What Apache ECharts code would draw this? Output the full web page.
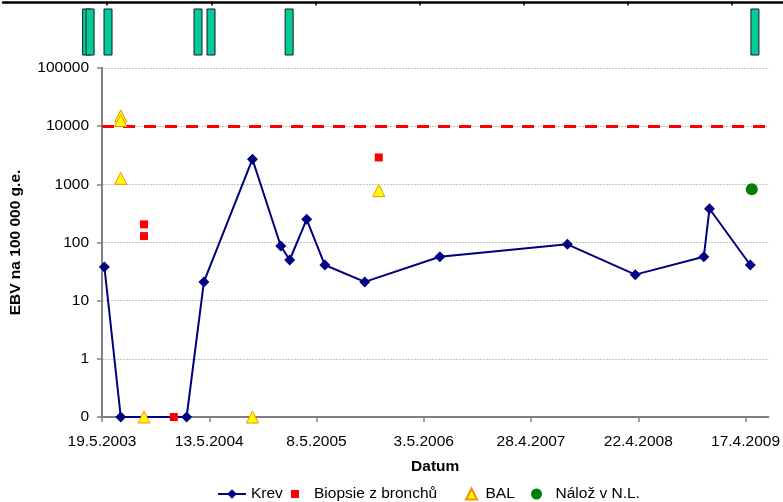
<!DOCTYPE html>
<html><head><meta charset="utf-8">
<script src="https://cdn.jsdelivr.net/npm/echarts@6/dist/echarts.min.js"></script>
<style>html,body{margin:0;padding:0;background:#fff}#c{width:783px;height:502px}</style>
</head><body><div id="c"></div>
<script>
// ---- data ----
const originDate = '19.5.2003';
const xTickIntervalDays = 360;
const xMaxDays = 2237;

const krevDates = ['27.5.2003','21.7.2003','27.2.2004','25.4.2004','5.10.2004','8.1.2005','7.2.2005','5.4.2005','5.6.2005','17.10.2005','26.6.2006','28.8.2007','12.4.2008','28.11.2008','17.12.2008','3.5.2009'];
const krevValues = [38,0,0,21,2700,87,50,250,41,21,57,93,28,57,380,41];

const biopsieDates = ['7.10.2003','7.10.2003','15.1.2004','3.12.2005'];
const biopsieValues = [205,129,0,2900];

const balDates = ['21.7.2003','21.7.2003','21.7.2003','7.10.2003','5.10.2004','3.12.2005'];
const balValues = [15000,12500,1270,0,0,780];

const nalozDates = ['8.5.2009'];
const nalozValues = [820];

const thresholdValue = 10000;

// events shown in the strip at the top (own time scale)
const eventDates = ['9.3.2003','21.3.2003','22.5.2003','28.3.2004','12.5.2004','6.2.2005','5.7.2009'];
const topAxisMin = -360, topAxisMax = 2336;

const yMin = 0.1, yMax = 100000;

const seriesNames = ['Krev','Biopsie z bronchů','BAL','Nálož v N.L.'];

// ---- helpers ----
const DAY = 86400000;
function parseD(s){const p=s.split('.').map(Number);return Date.UTC(p[2],p[1]-1,p[0]);}
const base = parseD(originDate);
function toDays(s){return Math.round((parseD(s)-base)/DAY);}
function fmtDays(d){const t=new Date(base+d*DAY);return t.getUTCDate()+'.'+(t.getUTCMonth()+1)+'.'+t.getUTCFullYear();}
function pts(dates, vals){return dates.map((d,i)=>[toDays(d), vals[i]===0?yMin:vals[i]]);}

const FONT = '"Liberation Sans", Arial, sans-serif';
const tickVals = [];
for(let v=0; v<=xMaxDays; v+=xTickIntervalDays) tickVals.push(v);
const topTickVals = [];
for(let v=0; v<topAxisMax; v+=360) topTickVals.push(v);

const chart = echarts.init(document.getElementById('c'), null, {renderer:'canvas'});
const legendText = {fontFamily:FONT, fontSize:15.5, color:'#000'};

chart.setOption({
  animation:false,
  backgroundColor:'#fff',
  grid:[
    {left:102, right:14, top:68, bottom:85, containLabel:false},
    {left:3, right:0, top:9, height:46, containLabel:false}
  ],
  xAxis:[
    {
      gridIndex:0, type:'value', min:0, max:xMaxDays, interval:xTickIntervalDays,
      name:'Datum', nameLocation:'middle', nameGap:42,
      nameTextStyle:{fontFamily:FONT, fontSize:15.5, fontWeight:'bold', color:'#000'},
      axisLine:{onZero:false, lineStyle:{color:'#808080', width:2}},
      axisTick:{show:true, length:5, inside:false, lineStyle:{color:'#808080', width:1.5}, customValues:tickVals},
      axisLabel:{fontFamily:FONT, fontSize:15.5, color:'#000', margin:17,
        customValues:tickVals, formatter:v=>fmtDays(v)},
      splitLine:{show:false}
    },
    {
      gridIndex:1, type:'value', min:topAxisMin, max:topAxisMax, interval:360, position:'top', offset:6.5,
      axisLine:{onZero:false, lineStyle:{color:'#000', width:2.5}},
      axisTick:{show:true, inside:true, length:3, lineStyle:{color:'#000', width:1.5}, customValues:topTickVals},
      axisLabel:{show:false}, splitLine:{show:false}
    }
  ],
  yAxis:[
    {
      gridIndex:0, type:'log', logBase:10, min:yMin, max:yMax, splitNumber:6,
      name:'EBV na 100 000 g.e.', nameLocation:'middle', nameGap:78,
      nameTextStyle:{fontFamily:FONT, fontSize:15.5, fontWeight:'bold', color:'#000'},
      axisLine:{show:true, onZero:false, lineStyle:{color:'#808080', width:2}},
      axisTick:{show:true, length:5, lineStyle:{color:'#808080', width:1.5}},
      axisLabel:{fontFamily:FONT, fontSize:15.5, color:'#000', margin:13,
        formatter:v=> v<1 ? '0' : String(Math.round(v))},
      splitLine:{show:true, lineStyle:{color:'#c4c4c4', width:1, type:[2,1]}}
    },
    {gridIndex:1, type:'value', min:0, max:1, show:false}
  ],
  legend:[
    {data:[seriesNames[0]], left:217, top:486, padding:0, itemWidth:28, itemHeight:12, selectedMode:false, textStyle:legendText},
    {data:[seriesNames[1]], left:291, top:486, padding:0, itemWidth:28, itemHeight:8, icon:'path://M0,0L1,0L1,1L0,1Z', selectedMode:false, textStyle:legendText},
    {data:[seriesNames[2]], left:465, top:486, padding:0, itemWidth:18, itemHeight:11, icon:'path://M0.5,0L1,1L0,1Z', selectedMode:false, textStyle:legendText},
    {data:[seriesNames[3]], left:531, top:486, padding:0, itemWidth:28, itemHeight:11, icon:'circle', selectedMode:false, textStyle:legendText}
  ],
  series:[
    {
      name:seriesNames[0], type:'line', xAxisIndex:0, yAxisIndex:0, clip:false,
      data:pts(krevDates, krevValues),
      symbol:'diamond', symbolSize:[11,11],
      lineStyle:{color:'#000080', width:2},
      itemStyle:{color:'#000080', opacity:1},
      markLine:{
        silent:true, symbol:['none','none'], label:{show:false},
        lineStyle:{color:'#ff0000', width:3, type:[12,9], opacity:1},
        data:[{yAxis:thresholdValue}]
      },
      z:3
    },
    {
      name:seriesNames[1], type:'scatter', xAxisIndex:0, yAxisIndex:0, clip:false,
      data:pts(biopsieDates, biopsieValues),
      symbol:'rect', symbolSize:8, itemStyle:{color:'#ff0000', opacity:1}, z:4
    },
    {
      name:seriesNames[2], type:'scatter', xAxisIndex:0, yAxisIndex:0, clip:false,
      data:pts(balDates, balValues),
      symbol:'triangle', symbolSize:12,
      itemStyle:{color:'#ffff00', borderColor:'#ff8c00', borderWidth:1, opacity:1}, z:5
    },
    {
      name:seriesNames[3], type:'scatter', xAxisIndex:0, yAxisIndex:0, clip:false,
      data:pts(nalozDates, nalozValues),
      symbol:'circle', symbolSize:12, itemStyle:{color:'#008000', opacity:1}, z:5
    },
    {
      type:'custom', xAxisIndex:1, yAxisIndex:1, silent:true,
      data:eventDates.map(d=>[toDays(d)]),
      renderItem:function(params, api){
        const top = api.coord([api.value(0), 1]);
        const bot = api.coord([api.value(0), 0]);
        return {type:'rect', shape:{x:top[0]-4, y:top[1], width:8, height:bot[1]-top[1]},
          style:{fill:'#00cc99', stroke:'#1a1a1a', lineWidth:1}};
      }
    }
  ]
});
</script>
</body></html>
